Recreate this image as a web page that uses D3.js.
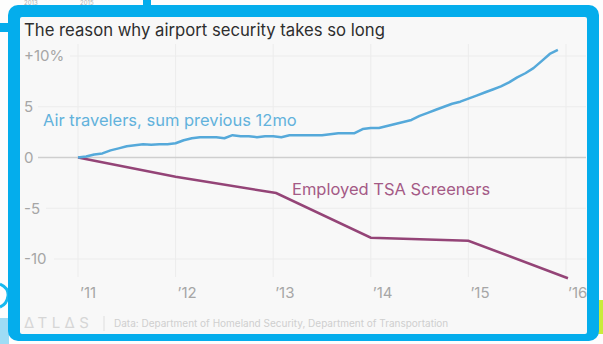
<!DOCTYPE html>
<html>
<head>
<meta charset="utf-8">
<script src="https://cdnjs.cloudflare.com/ajax/libs/d3/7.8.5/d3.min.js"></script>
<style>
  html, body { margin: 0; padding: 0; background: #fdfdfd; }
  svg { display: block; font-family: Inter, "Noto Sans", sans-serif; }
</style>
</head>
<body>
<svg id="chart" width="603" height="344"></svg>
<script>
// values, % change since Jan 2011
var yearTicks = [2011, 2012, 2013, 2014, 2015, 2016];
var yTicks = [10, 5, 0, -5, -10];

// air travelers, monthly from Jan 2011 to Dec 2015
var travelers = [0, 0.1, 0.3, 0.4, 0.7, 0.9, 1.1, 1.2, 1.3, 1.25, 1.3, 1.3,
  1.4, 1.7, 1.9, 2.0, 2.0, 2.0, 1.9, 2.2, 2.1, 2.1, 2.0, 2.1,
  2.1, 2.0, 2.2, 2.2, 2.2, 2.2, 2.2, 2.3, 2.4, 2.4, 2.4, 2.8,
  2.9, 2.9, 3.1, 3.3, 3.5, 3.7, 4.1, 4.4, 4.7, 5.0, 5.3, 5.5,
  5.8, 6.1, 6.4, 6.7, 7.0, 7.4, 7.9, 8.3, 8.8, 9.5, 10.2, 10.6];

// employed TSA screeners, yearly
var screenerYears = [2011, 2012, 2013.03, 2014, 2015, 2016.02];
var screeners = [0, -1.9, -3.5, -7.9, -8.2, -11.9];

var svg = d3.select("#chart");

// frame round the screenshot
svg.append("rect").attr("x", 0).attr("y", 23).attr("width", 12).attr("height", 9).attr("fill", "#04adec");
svg.append("rect").attr("x", 143).attr("y", 0).attr("width", 8).attr("height", 10).attr("fill", "#04adec");
svg.append("text").attr("x", 24).attr("y", 5).attr("font-size", 6).attr("fill", "#b0b0b0").text("2013");
svg.append("text").attr("x", 80).attr("y", 5).attr("font-size", 6).attr("fill", "#b0b0b0").text("2015");
svg.append("path").attr("d", "M0,284 Q9,288 8,296 Q7,304 0,307").attr("fill", "none")
  .attr("stroke", "#17b9ef").attr("stroke-width", 3);
svg.append("rect").attr("x", 0).attr("y", 318).attr("width", 9).attr("height", 26).attr("fill", "#9edcf5");
svg.append("rect").attr("x", 597).attr("y", 300).attr("width", 6).attr("height", 34).attr("fill", "#c9ec3a");
svg.append("rect").attr("x", 8).attr("y", 5).attr("width", 591).attr("height", 336)
  .attr("rx", 10).attr("fill", "#04adec");
svg.append("rect").attr("x", 20).attr("y", 17).attr("width", 567).attr("height", 317)
  .attr("rx", 2).attr("fill", "#f8f8f8");

var x = d3.scaleLinear().domain([2011, 2016]).range([78, 566]);
var y = d3.scaleLinear().domain([-10, 10]).range([259, 56]);

var g = svg.append("g");

// vertical grid
g.selectAll(".vgrid").data(yearTicks).enter().append("line")
  .attr("x1", function(d) { return x(d); }).attr("x2", function(d) { return x(d); })
  .attr("y1", 44).attr("y2", 277)
  .attr("stroke", "#ececec").attr("stroke-width", 1);

// horizontal grid and y labels
var labW = {10: 46, 5: 14, 0: 14, "-5": 22, "-10": 30};
g.selectAll(".hgrid").data(yTicks).enter().append("line")
  .attr("x1", function(d) { return d === 0 ? 38 : 24 + labW[d]; }).attr("x2", 586)
  .attr("y1", function(d) { return y(d); }).attr("y2", function(d) { return y(d); })
  .attr("stroke", function(d) { return d === 0 ? "#cfcfcf" : "#ececec"; })
  .attr("stroke-width", function(d) { return d === 0 ? 1.3 : 1; });

g.selectAll(".ylab").data(yTicks).enter().append("text")
  .attr("x", 24).attr("y", function(d) { return y(d); })
  .attr("dy", "0.35em").attr("font-size", 15).attr("fill", "#a6a6a6")
  .text(function(d) { return d === 10 ? "+10%" : d; });

g.selectAll(".xlab").data(yearTicks).enter().append("text")
  .attr("x", function(d) { return x(d) + 2; }).attr("y", 293)
  .attr("dy", "0.35em").attr("font-size", 15).attr("fill", "#a6a6a6")
  .text(function(d) { return "\u2019" + String(d).slice(2); });

// lines
var line = d3.line().x(function(d) { return x(d[0]); }).y(function(d) { return y(d[1]); });

g.append("path")
  .datum(screeners.map(function(v, i) { return [screenerYears[i], v]; }))
  .attr("d", line).attr("fill", "none")
  .attr("stroke", "#944477").attr("stroke-width", 2.5);

g.append("path")
  .datum(travelers.map(function(v, i) { return [2011 + i / 12, v]; }))
  .attr("d", line).attr("fill", "none")
  .attr("stroke", "#55a9da").attr("stroke-width", 2.5).attr("stroke-linejoin", "round");

// line labels
g.append("text").attr("x", 43).attr("y", 120).attr("dy", "0.35em")
  .attr("font-size", 16.5).attr("fill", "#62b2dc")
  .text("Air travelers, sum previous 12mo");
g.append("text").attr("x", 292).attr("y", 189).attr("dy", "0.35em")
  .attr("font-size", 16.5).attr("fill", "#a45a86")
  .text("Employed TSA Screeners");

// title
svg.append("text").attr("x", 24).attr("y", 36)
  .attr("font-size", 16.7).attr("fill", "#2e2e2e")
  .text("The reason why airport security takes so long");

// footer
svg.append("text").attr("x", 24).attr("y", 328)
  .attr("font-size", 15).attr("fill", "#d6d6d6").attr("letter-spacing", 4.5)
  .text("\u2206TL\u2206S");
svg.append("line").attr("x1", 104).attr("x2", 104).attr("y1", 316).attr("y2", 331)
  .attr("stroke", "#dedede");
svg.append("text").attr("x", 114).attr("y", 327)
  .attr("font-size", 10).attr("fill", "#cfcfcf")
  .text("Data: Department of Homeland Security, Department of Transportation");
</script>
</body>
</html>
